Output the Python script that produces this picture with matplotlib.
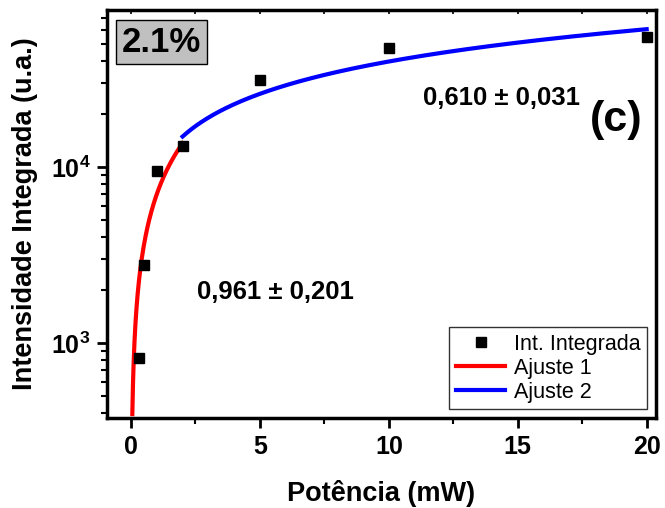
import numpy as np
import matplotlib
matplotlib.use("Agg")
import matplotlib.pyplot as plt
from matplotlib.ticker import LogLocator, FixedLocator, FuncFormatter, NullFormatter

plt.rcParams['font.family'] = ['Liberation Sans', 'DejaVu Sans']
plt.rcParams['mathtext.fontset'] = 'custom'
plt.rcParams['mathtext.rm'] = 'Liberation Sans:bold'
plt.rcParams['mathtext.bf'] = 'Liberation Sans:bold'

# Measured integrated intensity vs. excitation power
potencia = [0.3, 0.5, 1.0, 2.0, 5.0, 10.0, 20.0]
intensidade = [820, 2780, 9500, 13200, 31200, 47400, 54800]

# Power-law fits  I = A * P^k
ajuste1_k, ajuste1_err = 0.961, 0.201
ajuste1_A = 7030
ajuste1_range = (0.05, 2.0)
ajuste2_k, ajuste2_err = 0.610, 0.031
ajuste2_A = 9780
ajuste2_range = (2.0, 20.0)

fig = plt.figure(figsize=(6.65, 5.08), dpi=100)
ax = fig.add_axes([0.161, 0.177, 0.825, 0.803])

ax.plot(potencia, intensidade, 's', color='black', markersize=7.5,
        label='Int. Integrada', zorder=3)
p1 = np.linspace(*ajuste1_range, 300)
ax.plot(p1, ajuste1_A * p1 ** ajuste1_k, color='#ff0000', lw=3, label='Ajuste 1')
p2 = np.linspace(*ajuste2_range, 300)
ax.plot(p2, ajuste2_A * p2 ** ajuste2_k, color='#0000ff', lw=3, label='Ajuste 2')

ax.set_yscale('log')
ax.set_xlim(-0.93, 20.35)
ax.set_ylim(375, 78000)

ax.xaxis.set_major_locator(FixedLocator([0, 5, 10, 15, 20]))
ax.xaxis.set_minor_locator(FixedLocator([2.5, 7.5, 12.5, 17.5]))
ax.yaxis.set_major_locator(LogLocator(base=10, numticks=10))
ax.yaxis.set_minor_locator(LogLocator(base=10, subs=np.arange(2, 10), numticks=20))
ax.yaxis.set_minor_formatter(NullFormatter())
ax.yaxis.set_major_formatter(FuncFormatter(
    lambda v, pos: r'$\mathbf{10^{%d}}$' % int(round(np.log10(v)))))

ax.tick_params(axis='both', which='major', labelsize=18, width=2, length=7,
               direction='out', top=False, right=False, pad=5)
ax.tick_params(axis='both', which='minor', width=1.5, length=4, direction='out',
               top=False, right=False)
for lab in ax.get_xticklabels():
    lab.set_fontweight('bold')

# short inward marks along the top spine
sec = ax.secondary_xaxis('top')
sec.xaxis.set_major_locator(FixedLocator([0, 5, 10, 15, 20]))
sec.xaxis.set_minor_locator(FixedLocator([2.5, 7.5, 12.5, 17.5]))
sec.tick_params(which='both', direction='in', length=3, width=1.2, labeltop=False)
sec.spines['top'].set_visible(False)

for s in ax.spines.values():
    s.set_linewidth(2.5)

ax.set_xlabel('Potência (mW)', fontsize=19.5, fontweight='bold', labelpad=15)
ax.set_ylabel('Intensidade Integrada (u.a.)', fontsize=19.5, fontweight='bold', labelpad=9)

ax.text(0.027, 0.962, '2.1%', transform=ax.transAxes, fontsize=25,
        fontweight='bold', va='top', ha='left',
        bbox=dict(boxstyle='square,pad=0.16', facecolor='#c0c0c0',
                  edgecolor='black', lw=1))
ax.text(0.576, 0.785, '0,610 ± 0,031',
        transform=ax.transAxes, fontsize=18.5, fontweight='bold', va='center')
ax.text(0.88, 0.73, '(c)', transform=ax.transAxes, fontsize=31,
        fontweight='bold', va='center')
ax.text(0.164, 0.309, '0,961 ± 0,201', transform=ax.transAxes, fontsize=18.5,
        fontweight='bold', va='center')

leg = ax.legend(loc='lower right', fontsize=15.5, frameon=True, fancybox=False,
                edgecolor='black', handlelength=2.3, borderpad=0.3,
                labelspacing=0.15, handletextpad=0.4, borderaxespad=0.4)
leg.get_frame().set_linewidth(1)

fig.savefig('out.png', dpi=100)
